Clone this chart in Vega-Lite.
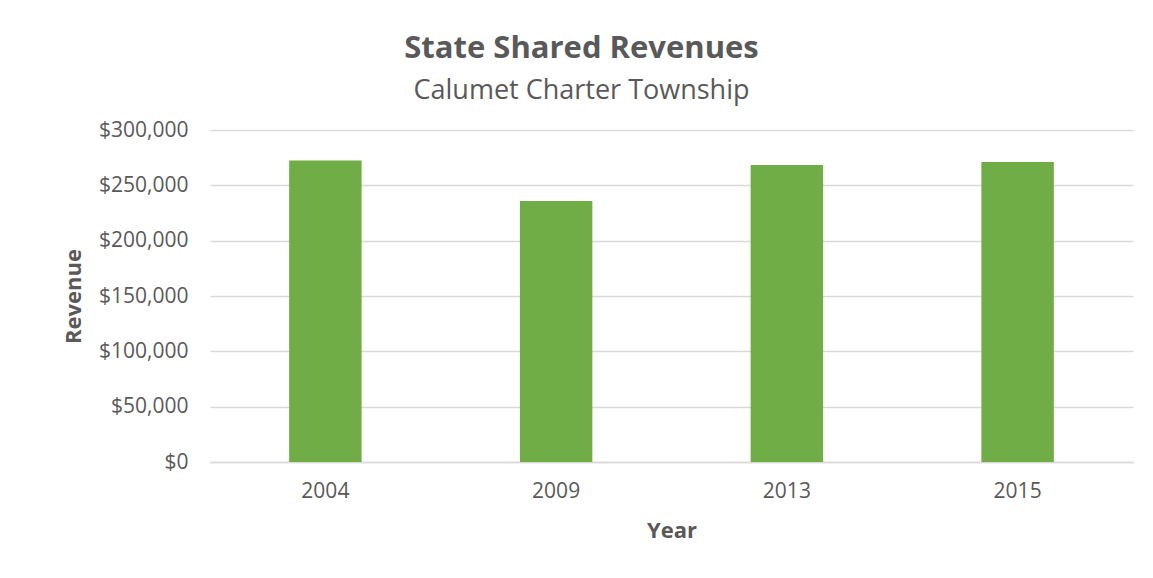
{
  "$schema": "https://vega.github.io/schema/vega-lite/v6.json",
  "width": 923,
  "height": 332,
  "autosize": {"type": "none"},
  "padding": {"left": 210, "top": 130, "right": 20, "bottom": 116},
  "background": "white",
  "title": {
    "text": "State Shared Revenues",
    "subtitle": "Calumet Charter Township",
    "anchor": "middle",
    "dx": -90,
    "offset": 14,
    "font": "Open Sans",
    "fontSize": 31,
    "fontWeight": "bold",
    "color": "#595959",
    "subtitleFont": "Open Sans",
    "subtitleFontSize": 27,
    "subtitleColor": "#595959",
    "subtitlePadding": 13
  },
  "data": {
    "values": [
      {"Year": "2004", "Revenue": 272500},
      {"Year": "2009", "Revenue": 235900},
      {"Year": "2013", "Revenue": 268400},
      {"Year": "2015", "Revenue": 271100}
    ]
  },
  "mark": {"type": "bar", "color": "#70ad47"},
  "encoding": {
    "x": {
      "field": "Year",
      "type": "ordinal",
      "scale": {"paddingInner": 0.686, "paddingOuter": 0.343},
      "axis": {
        "labelAngle": 0,
        "labelFont": "Open Sans",
        "labelFontSize": 21,
        "labelColor": "#595959",
        "labelPadding": 18,
        "ticks": false,
        "domainColor": "#d9d9d9",
        "domainWidth": 1.5,
        "title": "Year",
        "titleFont": "Open Sans",
        "titleFontSize": 22,
        "titleFontWeight": "bold",
        "titleColor": "#595959",
        "titlePadding": 19
      }
    },
    "y": {
      "field": "Revenue",
      "type": "quantitative",
      "scale": {"domain": [0, 300000]},
      "axis": {
        "values": [0, 50000, 100000, 150000, 200000, 250000, 300000],
        "format": "$,.0f",
        "labelFont": "Open Sans",
        "labelFontSize": 21,
        "labelColor": "#595959",
        "labelPadding": 22,
        "ticks": false,
        "domain": false,
        "gridColor": "#d9d9d9",
        "gridWidth": 1.5,
        "title": "Revenue",
        "titleFont": "Open Sans",
        "titleFontSize": 22,
        "titleFontWeight": "bold",
        "titleColor": "#595959",
        "titlePadding": 13
      }
    }
  },
  "config": {"view": {"stroke": null}}
}
